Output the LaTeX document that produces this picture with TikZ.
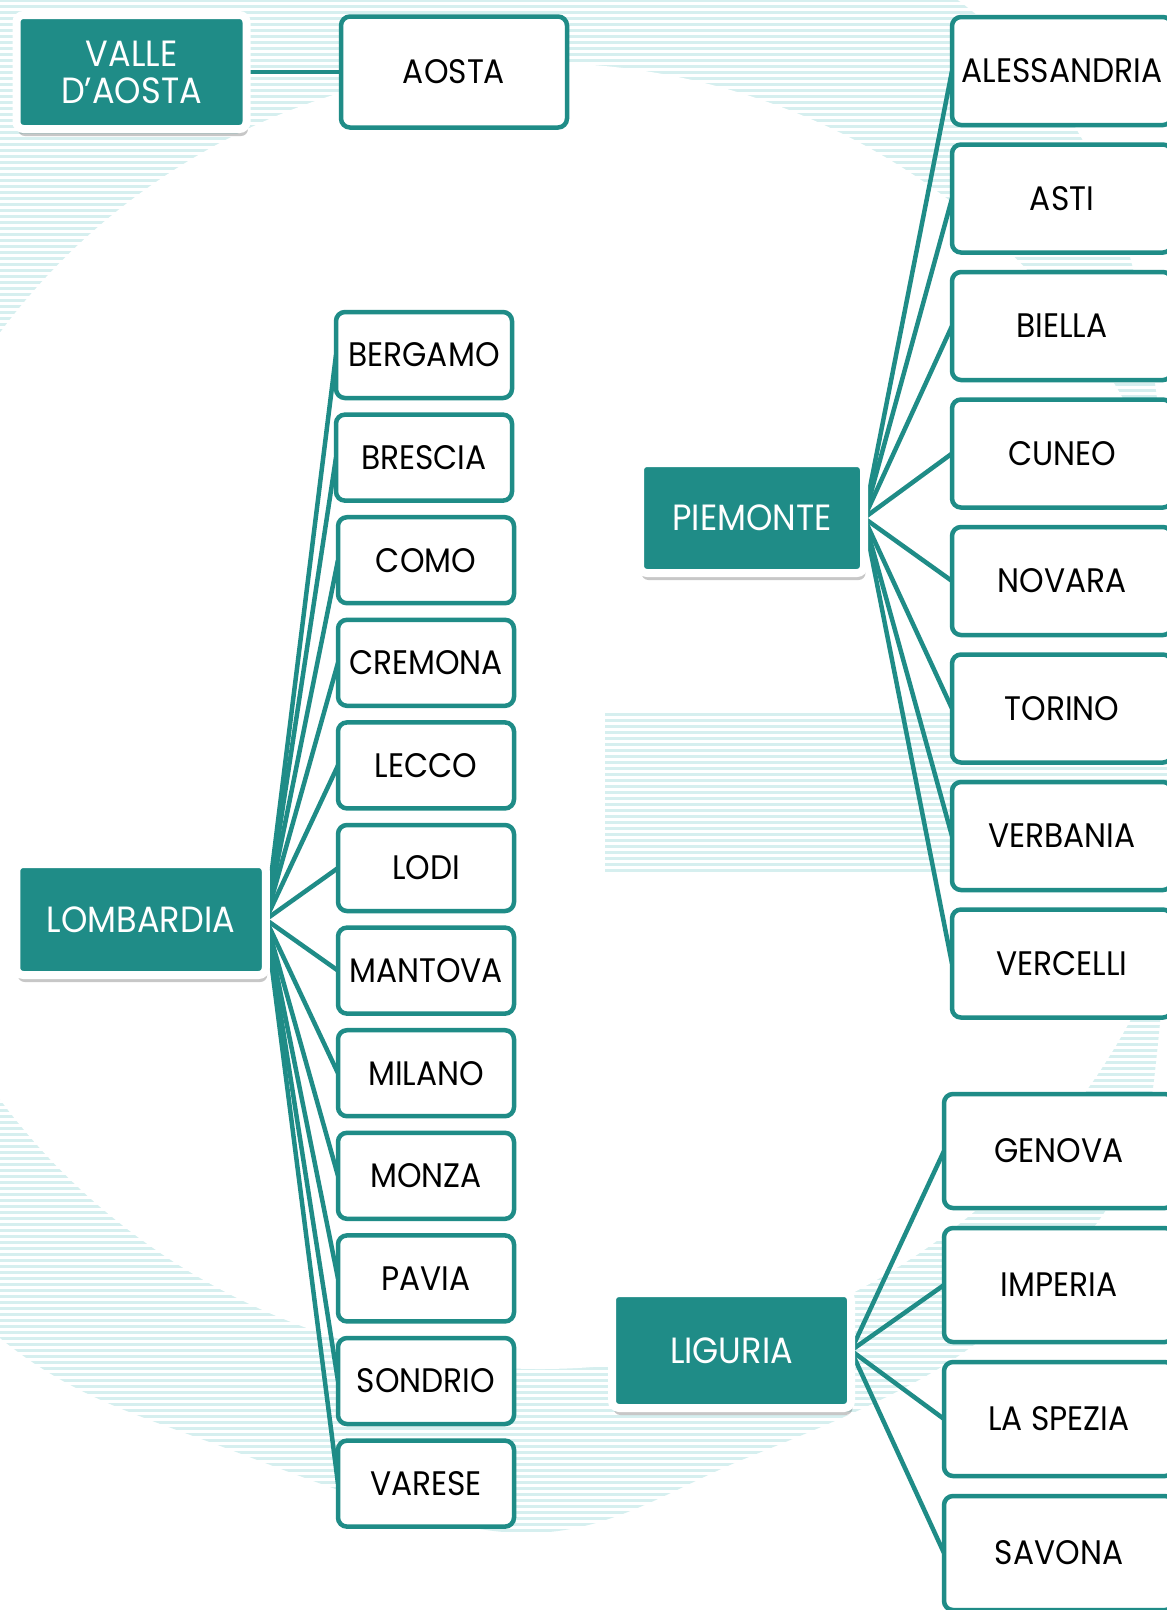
\documentclass[tikz,border=0pt]{standalone}
\usepackage{fontspec}
\newfontfamily\geofont[FakeStretch=0.92]{Poppins}
\usetikzlibrary{shadows}
\definecolor{teal1}{HTML}{1F8C87}
\definecolor{stripecol}{HTML}{D6EFEF}
\pgfdeclarelayer{bg}
\pgfdeclarelayer{edges}
\pgfsetlayers{bg,edges,main}
\tikzset{
  hub/.style={rectangle, rounded corners=7pt, fill=teal1, draw=white, line width=8pt,
    outer sep=0pt, inner sep=0pt, text=white, align=center,
    font=\geofont\fontsize{36.5}{37}\selectfont,
    drop shadow={shadow xshift=1.5pt, shadow yshift=-7pt, opacity=0.22, fill=black}},
  leaf/.style={rectangle, rounded corners=9pt, fill=white, draw=teal1, line width=4.5pt,
    outer sep=0pt, inner sep=0pt, text=black, font=\geofont\fontsize{34}{36}\selectfont},
  lomleaf/.style={leaf, minimum width=176pt, minimum height=86pt},
  pieleaf/.style={leaf, minimum width=220pt, minimum height=108pt},
  ligleaf/.style={leaf, minimum width=230pt, minimum height=114pt},
  link/.style={draw=teal1, line width=4.5pt},
  stripeline/.style={draw=stripecol, line width=3pt},
}
\begin{document}
\begin{tikzpicture}[x=1pt, y=-1pt]
\useasboundingbox (0,0) rectangle (1167,1610);
% ---------- background ----------
\begin{pgfonlayer}{bg}
  \fill[white] (0,0) rectangle (1167,1610);
  \begin{scope}
    \clip plot[smooth cycle, tension=0.6] coordinates {
      (-300,700) (-200,200) (50,-150) (500,-200) (900,-40) (1107,190)
      (1175,600) (1160,1023) (1116,1194) (967,1350) (744,1459) (521,1533)
      (223,1447) (0,1338) (-200,1100)};
    \foreach \yy in {0,6,...,1614} \draw[stripeline] (-10,\yy) -- (1180,\yy);
  \end{scope}
  \fill[white] (540,716) ellipse [x radius=667, y radius=653];
  \begin{scope}
    \clip (605,710) rectangle (1167,872);
    \foreach \yy in {708,714,...,876} \draw[stripeline] (600,\yy) -- (1180,\yy);
  \end{scope}
\end{pgfonlayer}

% ---------- Valle d'Aosta ----------
\node[hub, minimum width=230pt, minimum height=114pt] (vda) at (131.5,72) {VALLE\\D’AOSTA};
\node[leaf, minimum width=226pt, minimum height=111pt] (aosta) at (454,72) {AOSTA};

% ---------- Lombardia ----------
\node[hub, minimum width=249.5pt, minimum height=111pt] (lom) at (141,919.5) {LOMBARDIA};
\node[lomleaf] (bg1) at (424,355) {BERGAMO};
\node[lomleaf] (bg2) at (424,457.6) {BRESCIA};
\node[lomleaf] (bg3) at (426,560.2) {COMO};
\node[lomleaf] (bg4) at (426,662.8) {CREMONA};
\node[lomleaf] (bg5) at (426,765.4) {LECCO};
\node[lomleaf] (bg6) at (426,868) {LODI};
\node[lomleaf] (bg7) at (426,970.6) {MANTOVA};
\node[lomleaf] (bg8) at (426,1073.2) {MILANO};
\node[lomleaf] (bg9) at (426,1175.8) {MONZA};
\node[lomleaf] (bg10) at (426,1278.4) {PAVIA};
\node[lomleaf] (bg11) at (426,1381) {SONDRIO};
\node[lomleaf] (bg12) at (426,1483.6) {VARESE};

% ---------- Piemonte ----------
\node[hub, minimum width=224pt, minimum height=110pt] (pie) at (752,518) {PIEMONTE};
\node[pieleaf] (p1) at (1062,71) {ALESSANDRIA};
\node[pieleaf] (p2) at (1062,198.5) {ASTI};
\node[pieleaf] (p3) at (1062,326) {BIELLA};
\node[pieleaf] (p4) at (1062,453.5) {CUNEO};
\node[pieleaf] (p5) at (1062,581) {NOVARA};
\node[pieleaf] (p6) at (1062,708.5) {TORINO};
\node[pieleaf] (p7) at (1062,836) {VERBANIA};
\node[pieleaf] (p8) at (1062,963.5) {VERCELLI};

% ---------- Liguria ----------
\node[hub, minimum width=239pt, minimum height=115pt] (lig) at (731.5,1350.5) {LIGURIA};
\node[ligleaf] (l1) at (1059,1151) {GENOVA};
\node[ligleaf] (l2) at (1059,1285) {IMPERIA};
\node[ligleaf] (l3) at (1059,1419) {LA SPEZIA};
\node[ligleaf] (l4) at (1059,1553) {SAVONA};

% ---------- connectors ----------
\begin{pgfonlayer}{edges}
  \draw[link] (vda.east) -- (aosta.west);
  \foreach \i in {1,...,12} \draw[link] (lom.east) -- (bg\i.west);
  \foreach \i in {1,...,8} \draw[link] (pie.east) -- (p\i.west);
  \foreach \i in {1,...,4} \draw[link] (lig.east) -- (l\i.west);
\end{pgfonlayer}
\end{tikzpicture}
\end{document}
